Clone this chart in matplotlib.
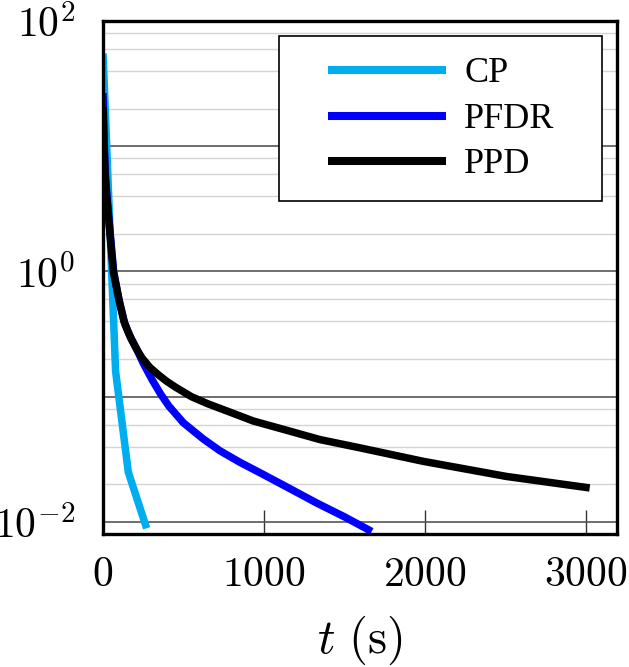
import math

import matplotlib
matplotlib.use("Agg")
import matplotlib.pyplot as plt
from matplotlib.patches import Rectangle
from matplotlib.ticker import FixedLocator, FuncFormatter, LogLocator, NullFormatter

# values
cp_t = [0, 78, 157, 271]
cp_y = [55.0, 0.16, 0.025, 0.0089]

pfdr_t = [0, 6, 14, 27, 44, 66, 100, 135, 170, 209, 250, 306, 358, 410, 499,
          623, 727, 850, 1000, 1150, 1327, 1500, 1670]
pfdr_y = [26.6, 12.0, 6.0, 3.6, 2.05, 1.0, 0.58, 0.385, 0.30, 0.240, 0.185,
          0.136, 0.105, 0.084, 0.062, 0.046, 0.037, 0.030, 0.0238, 0.0188,
          0.0142, 0.0110, 0.0084]

ppd_t = [0, 6, 14, 26, 43, 64, 99, 130, 155, 178, 209, 240, 290, 343, 395, 447,
         550, 650, 758, 934, 1141, 1348, 1600, 1990, 2507, 3025]
ppd_y = [20.6, 10.0, 5.5, 3.6, 2.0, 1.0, 0.6, 0.4, 0.33, 0.285, 0.240, 0.206,
         0.172, 0.150, 0.133, 0.120, 0.100, 0.088, 0.078, 0.064, 0.054,
         0.0455, 0.039, 0.0305, 0.0231, 0.0187]

series = [
    ("CP", cp_t, cp_y, "#00AEEF"),
    ("PFDR", pfdr_t, pfdr_y, "#0000FF"),
    ("PPD", ppd_t, ppd_y, "black"),
]

x_ticks = [0, 1000, 2000, 3000]

plt.rcParams["mathtext.fontset"] = "cm"

fig = plt.figure(figsize=(6.29, 6.67), dpi=100)
ax = fig.add_axes([0.1638, 0.1994, 0.8172, 0.7691])

for z, (name, t, y, c) in enumerate(series):
    ax.plot(t, y, color=c, lw=5.4, solid_capstyle="butt", solid_joinstyle="round",
            label=name, zorder=3 + z)

ax.set_yscale("log")
ax.set_xlim(0, 3195)
ax.set_ylim(10 ** -2.096, 100)

# y: gridline every decade, labels on even exponents only
ax.yaxis.set_major_locator(LogLocator(base=10, numticks=20))
ax.yaxis.set_minor_locator(LogLocator(base=10, subs=(2, 4, 6, 8), numticks=20))
ax.yaxis.set_minor_formatter(NullFormatter())


def ylab(v, pos):
    e = int(round(math.log10(v)))
    return r"$10^{%d}$" % e if e % 2 == 0 else ""


ax.yaxis.set_major_formatter(FuncFormatter(ylab))
ax.grid(True, which="major", axis="y", color="#555555", lw=1.2, zorder=1)
ax.grid(True, which="minor", axis="y", color="#d4d4d4", lw=1.0, zorder=1)
ax.tick_params(axis="y", which="both", length=0, pad=20, labelsize=30)

ax.xaxis.set_major_locator(FixedLocator(x_ticks))
ax.xaxis.set_major_formatter(FuncFormatter(lambda v, p: r"$%d$" % v))
ax.tick_params(axis="x", direction="in", length=17, width=1.0, color="#333333",
               pad=14, labelsize=30)

for s in ax.spines.values():
    s.set_linewidth(2.4)
    s.set_color("black")
    s.set_zorder(8)

ax.set_xlabel(r"$t\ (\mathrm{s})$", fontsize=35, labelpad=13)

# legend box drawn by hand (wide side padding, tight rows as in the figure)
ax.add_patch(Rectangle((0.3424, 0.6491), 0.6284, 0.3217, transform=ax.transAxes,
                       facecolor="white", edgecolor="black", lw=1.2, zorder=9))
row_y = [0.9045, 0.8148, 0.7271]
for (name, _, _, c), ry in zip(series, row_y):
    ax.plot([0.4377, 0.6673], [ry, ry], transform=ax.transAxes, color=c, lw=5.8,
            solid_capstyle="butt", zorder=10)
    ax.text(0.7023, ry - 0.0225, name, transform=ax.transAxes, va="baseline",
            ha="left", family="Liberation Serif", fontsize=26, zorder=10)

fig.savefig("out.png", dpi=100)
